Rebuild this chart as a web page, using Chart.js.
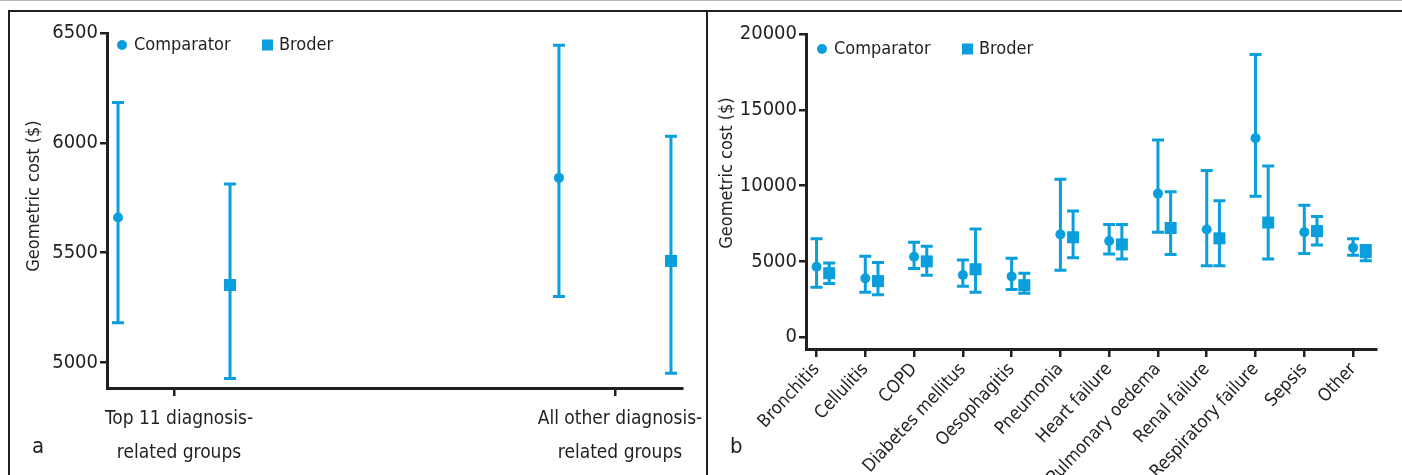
<!DOCTYPE html>
<html>
<head>
<meta charset="utf-8">
<script src="https://cdn.jsdelivr.net/npm/chart.js@4.4.0/dist/chart.umd.min.js"></script>
<style>
  html, body { margin: 0; padding: 0; background: #fff; }
  body { width: 1402px; height: 475px; position: relative; overflow: hidden; }
  #topline { position: absolute; left: 0; top: 0; width: 1402px; height: 1px; background: #b8b8b8; }
  #frame { position: absolute; left: 8px; top: 10px; width: 1400px; height: 470px;
           border-top: 2px solid #231f20; border-left: 2px solid #231f20; }
  #divider { position: absolute; left: 706px; top: 10px; width: 2px; height: 470px; background: #231f20; }
  #boxA { position: absolute; left: 0; top: 0; width: 706px; height: 475px; }
  #boxB { position: absolute; left: 708px; top: 0; width: 694px; height: 475px; }
</style>
</head>
<body>
<div id="topline"></div>
<div id="frame"></div>
<div id="divider"></div>
<div id="boxA"><canvas id="chartA"></canvas></div>
<div id="boxB"><canvas id="chartB"></canvas></div>
<script>
// panel a: top 11 DRGs vs all others
var groupLabels = [["Top 11 diagnosis-", "related groups"], ["All other diagnosis-", "related groups"]];
var groupCompMean = [5660, 5840];
var groupCompLow = [5180, 5300];
var groupCompHigh = [6184, 6444];
var groupBroderMean = [5352, 5462];
var groupBroderLow = [4926, 4950];
var groupBroderHigh = [5812, 6030];
var groupTicks = [5000, 5500, 6000, 6500];

// panel b: by diagnosis
var diagLabels = ["Bronchitis", "Cellulitis", "COPD", "Diabetes mellitus", "Oesophagitis", "Pneumonia",
                  "Heart failure", "Pulmonary oedema", "Renal failure", "Respiratory failure", "Sepsis", "Other"];
var diagCompMean = [4640, 3880, 5310, 4100, 4010, 6780, 6340, 9470, 7100, 13130, 6930, 5900];
var diagCompLow = [3300, 2960, 4530, 3360, 3140, 4420, 5480, 6930, 4710, 9300, 5520, 5400];
var diagCompHigh = [6500, 5340, 6260, 5090, 5200, 10410, 7430, 13000, 11000, 18640, 8710, 6500];
var diagBroderMean = [4220, 3700, 5000, 4480, 3430, 6590, 6120, 7200, 6520, 7560, 7000, 5610];
var diagBroderLow = [3540, 2800, 4080, 2960, 2890, 5240, 5160, 5450, 4710, 5160, 6080, 5040];
var diagBroderHigh = [4890, 4930, 5990, 7130, 4220, 8330, 7430, 9600, 9000, 11290, 7960, 6050];
var diagTicks = [0, 5000, 10000, 15000, 20000];

var FONT = "'DejaVu Sans Condensed', sans-serif";
var INK = '#231f20';
var BLUE = '#0a9fdc';

function points(mean, low, high, shift) {
  return mean.map(function(m, i) {
    return { x: i + shift, y: m, low: low[i], high: high[i] };
  });
}

// vertical error bars with caps, drawn under the markers
var errorBars = {
  id: 'errorBars',
  beforeDatasetsDraw: function(chart) {
    var ctx = chart.ctx, xs = chart.scales.x, ys = chart.scales.y;
    ctx.save();
    ctx.strokeStyle = BLUE;
    ctx.lineWidth = 3;
    chart.data.datasets.forEach(function(ds) {
      ds.data.forEach(function(p) {
        var x = xs.getPixelForValue(p.x);
        var yl = ys.getPixelForValue(p.low), yh = ys.getPixelForValue(p.high);
        ctx.beginPath();
        ctx.moveTo(x, yl); ctx.lineTo(x, yh);
        ctx.moveTo(x - 6, yl); ctx.lineTo(x + 6, yl);
        ctx.moveTo(x - 6, yh); ctx.lineTo(x + 6, yh);
        ctx.stroke();
      });
    });
    ctx.restore();
  }
};

// legend, panel letter and y title
var decor = {
  id: 'decor',
  afterDraw: function(chart, args, o) {
    var ctx = chart.ctx;
    ctx.save();
    ctx.fillStyle = INK;
    ctx.font = '18px ' + FONT;
    ctx.textBaseline = 'middle';
    ctx.textAlign = 'left';
    ctx.fillText('Comparator', o.legX + 12, o.legY);
    ctx.fillText('Broder', o.legX + 157, o.legY);
    ctx.fillStyle = BLUE;
    ctx.beginPath(); ctx.arc(o.legX, o.legY, 5, 0, Math.PI * 2); ctx.fill();
    ctx.fillRect(o.legX + 140, o.legY - 5.5, 11, 11);
    ctx.fillStyle = INK;
    ctx.font = '22px ' + FONT;
    ctx.textBaseline = 'alphabetic';
    ctx.fillText(o.letter, o.letX, 453);
    ctx.font = '18px ' + FONT;
    ctx.translate(o.titX, o.titY);
    ctx.rotate(-Math.PI / 2);
    ctx.textAlign = 'center';
    ctx.textBaseline = 'middle';
    ctx.fillText('Geometric cost ($)', 0, 0);
    ctx.restore();
  }
};

function makeChart(id, cfg) {
  return new Chart(document.getElementById(id), {
    type: 'scatter',
    data: {
      datasets: [
        { label: 'Comparator', data: points(cfg.cm, cfg.cl, cfg.ch, cfg.cShift),
          pointStyle: 'circle', pointRadius: 5, pointHoverRadius: 5,
          backgroundColor: BLUE, borderColor: BLUE, borderWidth: 0 },
        { label: 'Broder', data: points(cfg.bm, cfg.bl, cfg.bh, cfg.bShift),
          pointStyle: 'rect', pointRadius: 8.5, pointHoverRadius: 8.5,
          backgroundColor: BLUE, borderColor: BLUE, borderWidth: 0 }
      ]
    },
    options: {
      responsive: true,
      maintainAspectRatio: false,
      animation: false,
      layout: { padding: cfg.padding },
      plugins: {
        legend: { display: false },
        tooltip: { enabled: false },
        decor: cfg.decor
      },
      scales: {
        x: {
          type: 'linear', min: cfg.xMin, max: cfg.xMax,
          afterBuildTicks: function(s) { s.ticks = cfg.labels.map(function(l, i) { return { value: i }; }); },
          afterFit: function(s) { s.height = cfg.xHeight; s.paddingLeft = 0; s.paddingRight = 0; },
          grid: { drawOnChartArea: false, color: INK, lineWidth: 2.5, tickLength: 8 },
          border: { color: INK, width: 3 },
          ticks: {
            color: INK, font: { family: FONT, size: cfg.xFont, lineHeight: cfg.xLine }, padding: cfg.xPad,
            autoSkip: false, minRotation: cfg.rot, maxRotation: cfg.rot, labelOffset: cfg.xShift,
            callback: function(v) { return cfg.labels[v]; }
          }
        },
        y: {
          type: 'linear', min: cfg.yMin, max: cfg.yMax,
          afterBuildTicks: function(s) { s.ticks = cfg.yTicks.map(function(v) { return { value: v }; }); },
          afterFit: function(s) { s.width = cfg.yWidth; s.paddingTop = 0; s.paddingBottom = 0; },
          grid: { drawOnChartArea: false, color: INK, lineWidth: 2.5, tickLength: 7 },
          border: { color: INK, width: 3 },
          ticks: {
            color: INK, font: { family: FONT, size: 20 }, padding: 2,
            callback: function(v) { return String(v); }
          }
        }
      }
    },
    plugins: [errorBars, decor]
  });
}

makeChart('chartA', {
  cm: groupCompMean, cl: groupCompLow, ch: groupCompHigh, cShift: -0.127,
  bm: groupBroderMean, bl: groupBroderLow, bh: groupBroderHigh, bShift: 0.127,
  labels: groupLabels, xMin: -0.152, xMax: 1.152, xHeight: 87, xFont: 19, xLine: 1.79, xPad: 6, rot: 0, xShift: 5,
  yMin: 4883, yMax: 6500, yTicks: groupTicks, yWidth: 107,
  padding: { top: 33, right: 24, bottom: 0, left: 0 },
  decor: { legX: 122, legY: 45, letter: 'a', letX: 32, titX: 34, titY: 196 }
});

makeChart('chartB', {
  cm: diagCompMean, cl: diagCompLow, ch: diagCompHigh, cShift: 0,
  bm: diagBroderMean, bl: diagBroderLow, bh: diagBroderHigh, bShift: 0.26,
  labels: diagLabels, xMin: -0.216, xMax: 11.47, xHeight: 126, xFont: 18, xLine: 1.2, xPad: 2, rot: 47, xShift: 0,
  yMin: -780, yMax: 20000, yTicks: diagTicks, yWidth: 98,
  padding: { top: 34, right: 26, bottom: 0, left: 0 },
  decor: { legX: 114, legY: 49, letter: 'b', letX: 22, titX: 19, titY: 173 }
});
</script>
</body>
</html>
